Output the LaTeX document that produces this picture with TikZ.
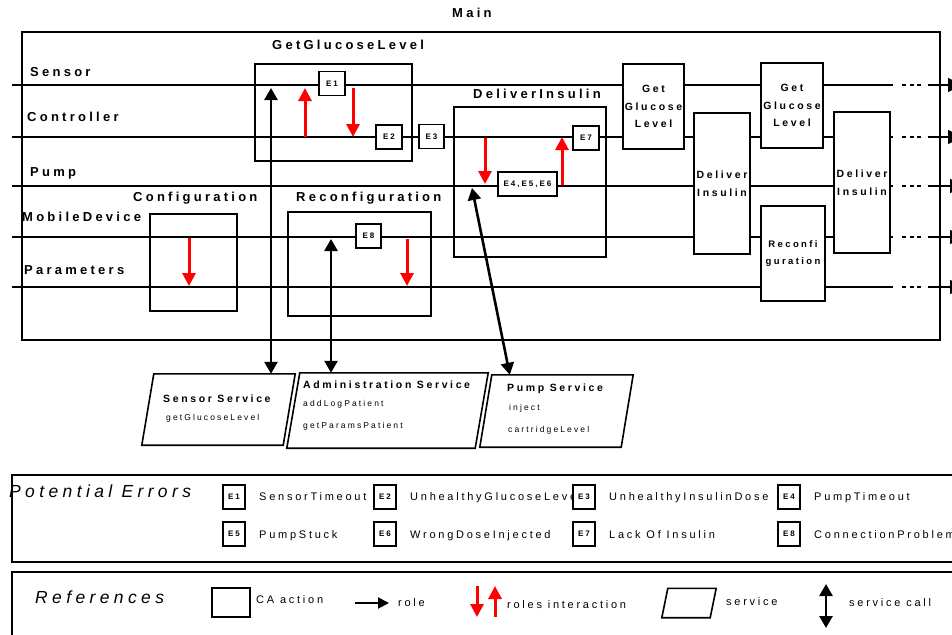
\documentclass[tikz,border=0pt]{standalone}
\usepackage{fontspec}
\setmainfont{Liberation Sans}[LetterSpace=25,Ligatures=NoCommon]
\usetikzlibrary{arrows.meta,positioning,shapes.geometric}
\definecolor{dosered}{HTML}{FF0000}
\tikzset{
  lane/.style={font=\bfseries\fontsize{13}{15}\selectfont,inner sep=0pt,anchor=base west},
  ca/.style={draw,line width=2.2pt,inner sep=0pt},
  cabox/.style={ca,fill=white,align=center,font=\bfseries\fontsize{10.5}{17.5}\selectfont},
  errbox/.style={draw,fill=white,line width=1.8pt,inner sep=0pt,font=\bfseries\fontsize{8}{9}\selectfont},
  life/.style={line width=1.4pt},
  inter/.style={-{Triangle[length=13pt,width=13pt]},draw=dosered,line width=3pt},
  call/.style={{Triangle[length=12pt,width=13pt]}-{Triangle[length=12pt,width=13pt]},line width=2.6pt},
  svc/.style={inner sep=0pt},
  svcline/.style={line width=1.6pt,line join=miter},
  svctitle/.style={font=\bfseries\fontsize{10.5}{12}\selectfont,inner sep=0pt,anchor=base west},
  svcop/.style={font=\fontsize{8.5}{10}\selectfont,inner sep=0pt,anchor=base west},
  legtxt/.style={font=\fontsize{11}{13}\selectfont,inner sep=0pt,anchor=base west},
  head/.style={font=\itshape\fontsize{17.5}{20}\selectfont,inner sep=0pt,anchor=base west},
}

\begin{document}
\begin{tikzpicture}[x=1pt,y=-1pt]
  \clip (0,0) rectangle (952,634);
  \node[lane] (main) at (452,18) {Main};
  \node[ca,minimum width=918pt,minimum height=308pt] (frame) at (481,186) {};
  % roles and their lifelines
  \foreach \n/\x/\y/\t in {sen/30/76/Sensor,con/27/121/Controller,pmp/30/176/Pump,mob/22/221/MobileDevice,par/24/274/Parameters}
    \node[lane] (t-\n) at (\x,\y) {\t};
  \foreach \n/\y/\e in {sen/85/962,con/137/962,pmp/186/964,mob/237/964,par/287/964}{
    \coordinate (\n-l) at (12,\y);
    \coordinate (\n-r) at (893,\y);
    \coordinate (\n-d) at (902,\y);
    \coordinate (\n-f) at (921,\y);
    \coordinate (\n-a) at (928,\y);
    \coordinate (\n-e) at (\e,\y);
    \draw[life] (\n-l) -- (\n-r);
    \draw[life,dash pattern=on 4pt off 3.5pt] (\n-d) -- (\n-f);
    \draw[life,-{Triangle[length=14pt,width=14pt]}] (\n-a) -- (\n-e);
  }
  % CA actions
  \foreach \n/\x/\y/\w/\h in {ggl/333.5/112.5/157/97,dli/530/182/152/150,cfg/193.5/262.5/87/97,rcf/359.5/264/143/104}
    \node[ca,minimum width=\w pt,minimum height=\h pt] (\n) at (\x,\y) {};
  \node[lane] (ggl-t) at (272,49) {GetGlucoseLevel};
  \node[lane] (dli-t) at (473,98) {DeliverInsulin};
  \node[lane] (cfg-t) at (133,201) {Configuration};
  \node[lane] (rcf-t) at (296,201) {Reconfiguration};
  \foreach \n/\x/\y/\w/\h/\t in {gg1/653.5/106.5/61/85/{Get\\Glucose\\Level},di1/722/183.5/56/141/{Deliver\\Insulin},gg2/792/105.5/62/85/{Get\\Glucose\\Level},di2/862/182.5/56/141/{Deliver\\Insulin}}
    \node[cabox,minimum width=\w pt,minimum height=\h pt] (\n) at (\x,\y) {\t};
  \node[cabox,minimum width=64pt,minimum height=95pt,font=\bfseries\fontsize{9.5}{16.5}\selectfont] (rc1) at (793,253.5) {Reconfi\\guration};
  % errors raised inside the actions
  \foreach \n/\x/\y/\w/\t in {e1/332/83.5/26/E1,e2/389/137/26/E2,e3/431.5/136.5/25/E3,e7/586/138/26/E7,e456/527.5/184/59/{E4,E5,E6},e8/368.5/236/25/E8}
    \node[errbox,minimum width=\w pt,minimum height=24pt] (\n) at (\x,\y) {\t};
  \foreach \i/\x/\ya/\yb in {1/305/137/88,2/353/88/137,3/485/138/184,4/562/185/137,5/189/238/286,6/407/239/286}{
    \coordinate (ri\i) at (\x,\ya);
    \coordinate (ro\i) at (\x,\yb);
    \draw[inter] (ri\i) -- (ro\i);
  }
  % services
  \node[svc,minimum width=141pt,minimum height=71pt] (ss) at (212.5,409.5) {};
  \node[svc,minimum width=188pt,minimum height=75pt] (as) at (381,410.5) {};
  \node[svc,minimum width=141pt,minimum height=72pt] (ps) at (550.5,411) {};
  \node[svc,minimum width=48pt,minimum height=29pt] (r-sv) at (686,603) {};
  \foreach \n/\s in {ss/12,as/13,ps/12,r-sv/6}
    \draw[svcline] ([xshift=\s pt]\n.north west) -- ([xshift=\s pt]\n.north east) -- (\n.south east) -- (\n.south west) -- cycle;
  \node[svctitle] (ss-t) at (163,402) {Sensor Service};
  \node[svcop] (ss-1) at (166,420) {getGlucoseLevel};
  \node[svctitle] (as-t) at (303,388) {Administration Service};
  \node[svcop] (as-1) at (303,406) {addLogPatient};
  \node[svcop] (as-2) at (303,428) {getParamsPatient};
  \node[svctitle] (ps-t) at (507,391) {Pump Service};
  \node[svcop] (ps-1) at (509,410) {inject};
  \node[svcop] (ps-2) at (508,432) {cartridgeLevel};
  \coordinate (cs) at (271,88);
  \coordinate (ca) at (331,239);
  \coordinate (cp) at (472,188);
  \draw[call] (cs) -- (cs |- ss.north);
  \draw[call] (ca) -- (ca |- as.north);
  \draw[call] (cp) -- ([xshift=30pt]ps.north west);
  % potential errors
  \node[draw,line width=1.8pt,minimum width=948pt,minimum height=87pt] (errs) at (486,518.5) {};
  \node[head] (errs-t) at (9,497) {Potential Errors};
  \foreach \i/\x/\y/\t in {1/234/500/SensorTimeout,2/385/500/UnhealthyGlucoseLevel,3/584/500/UnhealthyInsulinDose,4/789/500/PumpTimeout,5/234/538/PumpStuck,6/385/538/WrongDoseInjected,7/584/538/Lack Of Insulin,8/789/538/ConnectionProblem}
    \node[legtxt] (le\i-t) at (\x+25,\y) {\t};
  \foreach \i/\x/\y in {1/234/497,2/385/497,3/584/497,4/789/497,5/234/534,6/385/534,7/584/534,8/789/534}
    \node[errbox,minimum width=22pt,minimum height=24pt] (le\i) at (\x,\y) {E\i};
  % references
  \node[draw,line width=1.8pt,minimum width=948pt,minimum height=78pt] (refs) at (486,611) {};
  \node[head] (refs-t) at (35,603) {References};
  \node[ca,minimum width=38pt,minimum height=29pt] (r-ca) at (231,602.5) {};
  \node[legtxt] (r-ca-t) at (256,603) {CA action};
  \coordinate (r-ro1) at (355,603);
  \coordinate (r-ro2) at (389,603);
  \draw[-{Triangle[length=11pt,width=11pt]},line width=2pt] (r-ro1) -- (r-ro2);
  \node[legtxt] (r-ro-t) at (398,606) {role};
  \coordinate (r-in1) at (477,586);
  \coordinate (r-in2) at (477,617);
  \coordinate (r-in3) at (495,617);
  \coordinate (r-in4) at (495,586);
  \draw[inter] (r-in1) -- (r-in2);
  \draw[inter] (r-in3) -- (r-in4);
  \node[legtxt] (r-in-t) at (507,608) {roles interaction};
  \node[legtxt] (r-sv-t) at (726,605) {service};
  \coordinate (r-sc1) at (826,584);
  \coordinate (r-sc2) at (826,628);
  \draw[call] (r-sc1) -- (r-sc2);
  \node[legtxt] (r-sc-t) at (849,606) {service call};
\end{tikzpicture}
\end{document}
